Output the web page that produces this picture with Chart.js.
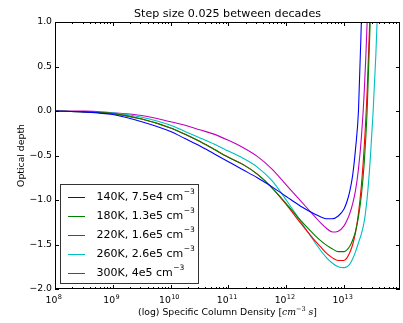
<!DOCTYPE html>
<html><head><meta charset="utf-8">
<script src="https://cdn.jsdelivr.net/npm/chart.js@4.4.0/dist/chart.umd.min.js"></script>
<style>html,body{margin:0;padding:0;background:#fff;}#wrap{width:403px;height:323px;position:relative;}</style>
</head><body><div id="wrap"><canvas id="c"></canvas></div>
<script>
// log10 of specific column density
const logN = [8, 8.5, 9, 9.5, 10, 10.25, 10.5, 10.75, 11, 11.25, 11.5, 11.75, 12, 12.25, 12.5, 12.6, 12.7, 12.8, 12.9, 13.0, 13.05, 13.1, 13.15, 13.2, 13.25, 13.3, 13.35, 13.4, 13.45, 13.5, 13.55, 13.6, 13.65];
const tau140K = [0, -0.01, -0.04, -0.12, -0.23, -0.31, -0.39, -0.48, -0.57, -0.66, -0.75, -0.85, -0.96, -1.07, -1.16, -1.19, -1.21, -1.21, -1.18, -1.10, -1.02, -0.90, -0.72, -0.42, 0.0, 1.0, 2.2, null, null, null, null, null, null];
const tau180K = [0, -0.01, -0.03, -0.09, -0.19, -0.26, -0.34, -0.43, -0.52, -0.60, -0.71, -0.86, -1.04, -1.23, -1.40, -1.46, -1.51, -1.55, -1.58, -1.58, -1.56, -1.52, -1.45, -1.35, -1.19, -0.95, -0.58, 0.0, 0.95, 2.4, null, null, null];
const tau220K = [0, -0.01, -0.03, -0.09, -0.19, -0.26, -0.34, -0.43, -0.52, -0.60, -0.71, -0.86, -1.05, -1.26, -1.46, -1.53, -1.60, -1.65, -1.68, -1.68, -1.65, -1.59, -1.50, -1.36, -1.15, -0.84, -0.40, 0.22, 1.1, 2.4, null, null, null];
const tau260K = [0, -0.01, -0.02, -0.07, -0.16, -0.23, -0.30, -0.37, -0.45, -0.53, -0.63, -0.78, -1.00, -1.24, -1.48, -1.57, -1.65, -1.71, -1.75, -1.76, -1.75, -1.72, -1.66, -1.58, -1.48, -1.38, -1.24, -0.98, -0.58, -0.05, 0.62, 1.5, 2.7];
const tau300K = [0, 0, -0.02, -0.05, -0.12, -0.16, -0.21, -0.26, -0.33, -0.41, -0.51, -0.65, -0.83, -1.01, -1.19, -1.26, -1.32, -1.36, -1.35, -1.29, -1.23, -1.15, -1.04, -0.89, -0.65, -0.30, 0.22, 1.0, 2.2, null, null, null, null];
const seriesLabels = ['140K, 7.5e4', '180K, 1.3e5', '220K, 1.6e5', '260K, 2.6e5', '300K, 4e5'];
const seriesColors = ['#0000ff', '#008000', '#ff0000', '#00bfbf', '#bf00bf'];
const yTickValues = [-2, -1.5, -1, -0.5, 0, 0.5, 1];
const xDecades = [8, 9, 10, 11, 12, 13];
const xMax = 9.3e13;
const titleText = 'Step size 0.025 between decades';
const yTitleText = 'Optical depth';
const xTitleText = '(log) Specific Column Density ';

const FONT = '"DejaVu Sans"';
Chart.defaults.font.family = FONT;
Chart.defaults.color = '#000';

const allSeries = [tau140K, tau180K, tau220K, tau260K, tau300K];
const datasets = allSeries.map((s, i) => ({
  label: seriesLabels[i],
  data: logN.map((l, j) => ({x: Math.pow(10, l), y: s[j]})),
  borderColor: seriesColors[i],
  backgroundColor: seriesColors[i],
  borderWidth: 1.1,
  pointRadius: 0,
  fill: false,
  cubicInterpolationMode: 'monotone',
  spanGaps: false
}));

const isDecade = v => { const l = Math.log10(v); return Math.abs(l - Math.round(l)) < 1e-6; };

const xTickList = [];
xDecades.forEach(d => { for (let m = 1; m <= 9; m++) { const v = m * Math.pow(10, d); if (v <= xMax) xTickList.push(v); } });

const decor = {
  id: 'decor',
  afterDatasetsDraw(chart) {
    const {ctx, chartArea: a, scales: {x, y}} = chart;
    ctx.save();
    ctx.strokeStyle = '#000';
    ctx.lineWidth = 1;
    ctx.beginPath();
    x.ticks.forEach(t => {
      const px = Math.round(x.getPixelForValue(t.value)) + 0.5;
      const len = isDecade(t.value) ? 4 : 2;
      ctx.moveTo(px, a.bottom); ctx.lineTo(px, a.bottom - len);
      ctx.moveTo(px, a.top); ctx.lineTo(px, a.top + len);
    });
    y.ticks.forEach(t => {
      const py = Math.round(y.getPixelForValue(t.value)) + 0.5;
      ctx.moveTo(a.left, py); ctx.lineTo(a.left + 4, py);
      ctx.moveTo(a.right, py); ctx.lineTo(a.right - 4, py);
    });
    ctx.stroke();
    ctx.strokeRect(Math.round(a.left) + 0.5, Math.round(a.top) + 0.5, Math.round(a.right - a.left) - 1, Math.round(a.bottom - a.top) - 1);

    // x tick labels 10^n
    ctx.fillStyle = '#000';
    ctx.textBaseline = 'alphabetic';
    ctx.textAlign = 'left';
    x.ticks.forEach(t => {
      if (!isDecade(t.value)) return;
      const e = String(Math.round(Math.log10(t.value)));
      ctx.font = '9.3px ' + FONT;
      const w1 = ctx.measureText('10').width;
      ctx.font = '6.5px ' + FONT;
      const w2 = ctx.measureText(e).width;
      const cx = x.getPixelForValue(t.value) - 1.5 - (w1 + w2) / 2;
      ctx.font = '9.3px ' + FONT;
      ctx.fillText('10', cx, 303);
      ctx.font = '6.5px ' + FONT;
      ctx.fillText(e, cx + w1 + 0.3, 299);
    });

    // legend
    const lx = Math.round(a.left) + 5.5, ly = Math.round(a.top) + 162.5;
    ctx.fillStyle = '#fff';
    ctx.fillRect(lx, ly, 138, 99);
    ctx.strokeStyle = '#333';
    ctx.lineWidth = 1;
    ctx.strokeRect(lx, ly, 138, 99);
    chart.data.datasets.forEach((ds, i) => {
      const ry = a.top + 174.7 + i * 19;
      ctx.strokeStyle = ds.borderColor;
      ctx.lineWidth = 1;
      ctx.beginPath();
      ctx.moveTo(a.left + 13, Math.round(ry) + 0.5);
      ctx.lineTo(a.left + 30, Math.round(ry) + 0.5);
      ctx.stroke();
      ctx.fillStyle = '#000';
      ctx.textBaseline = 'middle';
      ctx.textAlign = 'left';
      ctx.font = '11px ' + FONT;
      const txt = ds.label + ' cm';
      const tx = a.left + 41.5;
      ctx.fillText(txt, tx, ry);
      const w = ctx.measureText(txt).width;
      ctx.font = '7.5px ' + FONT;
      ctx.fillText('−3', tx + w + 0.5, ry - 4.5);
    });
    ctx.restore();
  },
  afterDraw(chart) {
    const {ctx, chartArea: a} = chart;
    ctx.save();
    ctx.fillStyle = '#000';
    // title
    ctx.font = '11.1px ' + FONT;
    ctx.textAlign = 'center';
    ctx.textBaseline = 'middle';
    ctx.fillText(titleText, (a.left + a.right) / 2, 14);
    // y title
    ctx.font = '9.3px ' + FONT;
    ctx.translate(21.5, (a.top + a.bottom) / 2);
    ctx.rotate(-Math.PI / 2);
    ctx.fillText(yTitleText, 0, 0);
    ctx.setTransform(1, 0, 0, 1, 0, 0);
    // x title with math part
    const yy = 313;
    ctx.textAlign = 'left';
    ctx.textBaseline = 'middle';
    const parts = [
      {t: xTitleText, f: '9.3px ' + FONT, dy: 0},
      {t: '[', f: '9.3px "DejaVu Serif"', dy: 0},
      {t: 'cm', f: 'italic 9.3px "DejaVu Serif"', dy: 0},
      {t: '−3', f: '6.5px "DejaVu Serif"', dy: -3.5},
      {t: ' s', f: 'italic 9.3px "DejaVu Serif"', dy: 0},
      {t: ']', f: '9.3px "DejaVu Serif"', dy: 0}
    ];
    let total = 0;
    parts.forEach(p => { ctx.font = p.f; p.w = ctx.measureText(p.t).width; total += p.w; });
    let cx = (a.left + a.right) / 2 - total / 2;
    parts.forEach(p => { ctx.font = p.f; ctx.fillText(p.t, cx, yy + p.dy); cx += p.w; });
    ctx.restore();
  }
};

new Chart(document.getElementById('c'), {
  type: 'line',
  data: {datasets},
  options: {
    responsive: true,
    maintainAspectRatio: false,
    animation: false,
    events: [],
    layout: {padding: {left: 0, right: 3, top: 22, bottom: 0}},
    plugins: {
      legend: {display: false},
      tooltip: {enabled: false},
      title: {display: false}
    },
    scales: {
      x: {
        type: 'logarithmic',
        min: 1e8,
        max: xMax,
        afterBuildTicks: s => { s.ticks = xTickList.map(v => ({value: v})); },
        afterFit: s => { s.height = 34; },
        grid: {display: false, drawTicks: false},
        border: {display: false},
        ticks: {display: false, autoSkip: false, maxRotation: 0, minRotation: 0}
      },
      y: {
        type: 'linear',
        min: -2, max: 1,
        afterBuildTicks: s => { s.ticks = yTickValues.map(v => ({value: v})); },
        afterFit: s => { s.width = 55; },
        grid: {display: false, drawTicks: false},
        border: {display: false},
        ticks: {
          padding: 3, font: {size: 9.3, family: FONT}, color: '#000',
          callback: v => (v < 0 ? '−' : '') + Math.abs(v).toFixed(1)
        }
      }
    }
  },
  plugins: [decor]
});
</script></body></html>
